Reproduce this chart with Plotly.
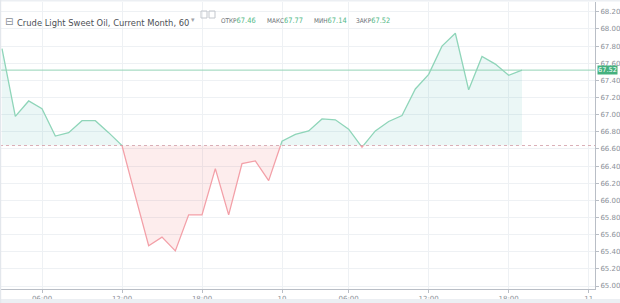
import plotly.graph_objects as go

# ---- data (hourly closes, bar index along a session-compressed time axis) ----
closes = [67.77, 66.98, 67.16, 67.07, 66.75, 66.79, 66.93, 66.93, 66.79, 66.64,
          66.05, 65.47, 65.57, 65.41, 65.83, 65.83, 66.37, 65.83, 66.43, 66.46,
          66.23, 66.69, 66.77, 66.81, 66.95, 66.94, 66.83, 66.62, 66.81, 66.92,
          66.99, 67.30, 67.47, 67.80, 67.95, 67.29, 67.68, 67.59, 67.46, 67.52]
tick_idx = [3, 9, 15, 21, 26, 32, 38, 44]
tick_text = ["06:00", "12:00", "18:00", "10", "06:00", "12:00", "18:00", "11"]
title = "Crude Light Sweet Oil, Current Month, 60"
ohlc_labels = ["ОТКР", "МАКС", "МИН", "ЗАКР"]
ohlc_values = ["67.46", "67.77", "67.14", "67.52"]

y_lo, y_hi = 64.965, 68.315
base = (y_lo + y_hi) / 2.0
idx = list(range(len(closes)))
rel = [c - base for c in closes]

W, H = 620, 303
ml, mr, mt, mb = 0, 25, 2, 14
pw, ph = W - ml - mr, H - mt - mb


def px(x):
    return (x - ml) / pw


def py(y):
    return (H - mb - y) / ph


GREEN_LINE = "#8fd5b9"
RED_LINE = "#f3a0a8"
GRID = "#eef1f4"
AXIS = "#b9bec6"
TXT = "#8b9098"

fig = go.Figure()
fig.add_trace(go.Scatter(x=idx, y=closes, mode="lines", line=dict(width=0),
                         hoverinfo="skip", showlegend=False, xaxis="x", yaxis="y"))
fig.add_trace(go.Scatter(x=idx, y=rel, mode="lines", line=dict(color=GREEN_LINE, width=1.3),
                         fill="tozeroy", fillcolor="rgba(38,166,154,0.09)",
                         hoverinfo="skip", showlegend=False, xaxis="x", yaxis="y2"))
fig.add_trace(go.Scatter(x=idx, y=rel, mode="lines", line=dict(color=RED_LINE, width=1.3),
                         fill="tozeroy", fillcolor="rgba(239,83,80,0.10)",
                         hoverinfo="skip", showlegend=False, xaxis="x", yaxis="y3"))

shapes = [
    dict(type="line", xref="paper", yref="y", x0=0, x1=1, y0=closes[-1], y1=closes[-1],
         line=dict(color="#93d3b6", width=1), layer="above"),
    dict(type="line", xref="paper", yref="y", x0=0, x1=1, y0=base, y1=base,
         line=dict(color="rgba(205,150,160,0.75)", width=1, dash="dot"), layer="above"),
    dict(type="rect", xref="paper", yref="paper", x0=px(0), x1=px(620), y0=py(299), y1=py(303),
         fillcolor="#eceff3", line=dict(width=0)),
    dict(type="rect", xref="paper", yref="paper", x0=px(0), x1=px(620), y0=py(0), y1=py(1.5),
         fillcolor="#eceff3", line=dict(width=0)),
    dict(type="rect", xref="paper", yref="paper", x0=px(0), x1=px(1.2), y0=py(0), y1=py(303),
         fillcolor="#e3e7ec", line=dict(width=0)),
    dict(type="rect", xref="paper", yref="paper", x0=px(201), x1=px(207), y0=py(18), y1=py(11),
         line=dict(color="#c3c7cd", width=1)),
    dict(type="rect", xref="paper", yref="paper", x0=px(209), x1=px(215), y0=py(18), y1=py(11),
         line=dict(color="#c3c7cd", width=1)),
]

ann = [
    dict(text=f"{closes[-1]:.2f}", xref="paper", yref="y", x=px(597), y=closes[-1],
         xanchor="left", showarrow=False, bgcolor="#45b17f", borderpad=0,
         font=dict(size=6.6, color="white", family="DejaVu Sans")),
    dict(text="⊟", xref="paper", yref="paper", x=px(3), y=py(14.5), xanchor="left",
         showarrow=False, font=dict(size=10, color="#8a8f96", family="DejaVu Sans")),
    dict(text=title, xref="paper", yref="paper", x=px(15), y=py(14.5), xanchor="left",
         showarrow=False, font=dict(size=9.3, color="#4d5056", family="DejaVu Sans Condensed")),
    dict(text="▾", xref="paper", yref="paper", x=px(189), y=py(14), xanchor="left",
         showarrow=False, font=dict(size=7, color="#a0a4aa", family="DejaVu Sans")),
]
lab_x = [219, 265, 312, 354]
for lx, lab, val in zip(lab_x, ohlc_labels, ohlc_values):
    ann.append(dict(text=f"{lab}<span style='color:#53b987;font-size:7.4px'>{val}</span>",
                    xref="paper", yref="paper", x=px(lx), y=py(14.5), xanchor="left",
                    showarrow=False,
                    font=dict(size=6.4, color="#6b6f75", family="DejaVu Sans Condensed")))

fig.update_layout(
    width=W, height=H,
    margin=dict(l=ml, r=mr, t=mt, b=mb),
    paper_bgcolor="white", plot_bgcolor="rgba(0,0,0,0)",
    showlegend=False,
    xaxis=dict(range=[-0.15, 44.475], tickmode="array", tickvals=tick_idx, ticktext=tick_text,
               showgrid=True, gridcolor=GRID, gridwidth=1, zeroline=False,
               showline=True, linecolor=AXIS, linewidth=1, ticks="outside", ticklen=3,
               tickcolor=AXIS, tickfont=dict(size=7, color=TXT, family="DejaVu Sans"),
               anchor="y", fixedrange=True),
    yaxis=dict(range=[y_lo, y_hi], side="right", tick0=65.0, dtick=0.2, tickformat=".2f",
               showgrid=True, gridcolor=GRID, gridwidth=1, zeroline=False,
               showline=True, linecolor=AXIS, linewidth=1, ticks="outside", ticklen=3,
               tickcolor=AXIS, tickfont=dict(size=7, color=TXT, family="DejaVu Sans"),
               anchor="x", domain=[0, 1], fixedrange=True),
    yaxis2=dict(range=[0, y_hi - base], domain=[0.5, 1], visible=False, anchor="x", fixedrange=True),
    yaxis3=dict(range=[y_lo - base, 0], domain=[0, 0.5], visible=False, anchor="x", fixedrange=True),
    shapes=shapes, annotations=ann,
)

fig.write_html("out.html", config={"displayModeBar": False})
